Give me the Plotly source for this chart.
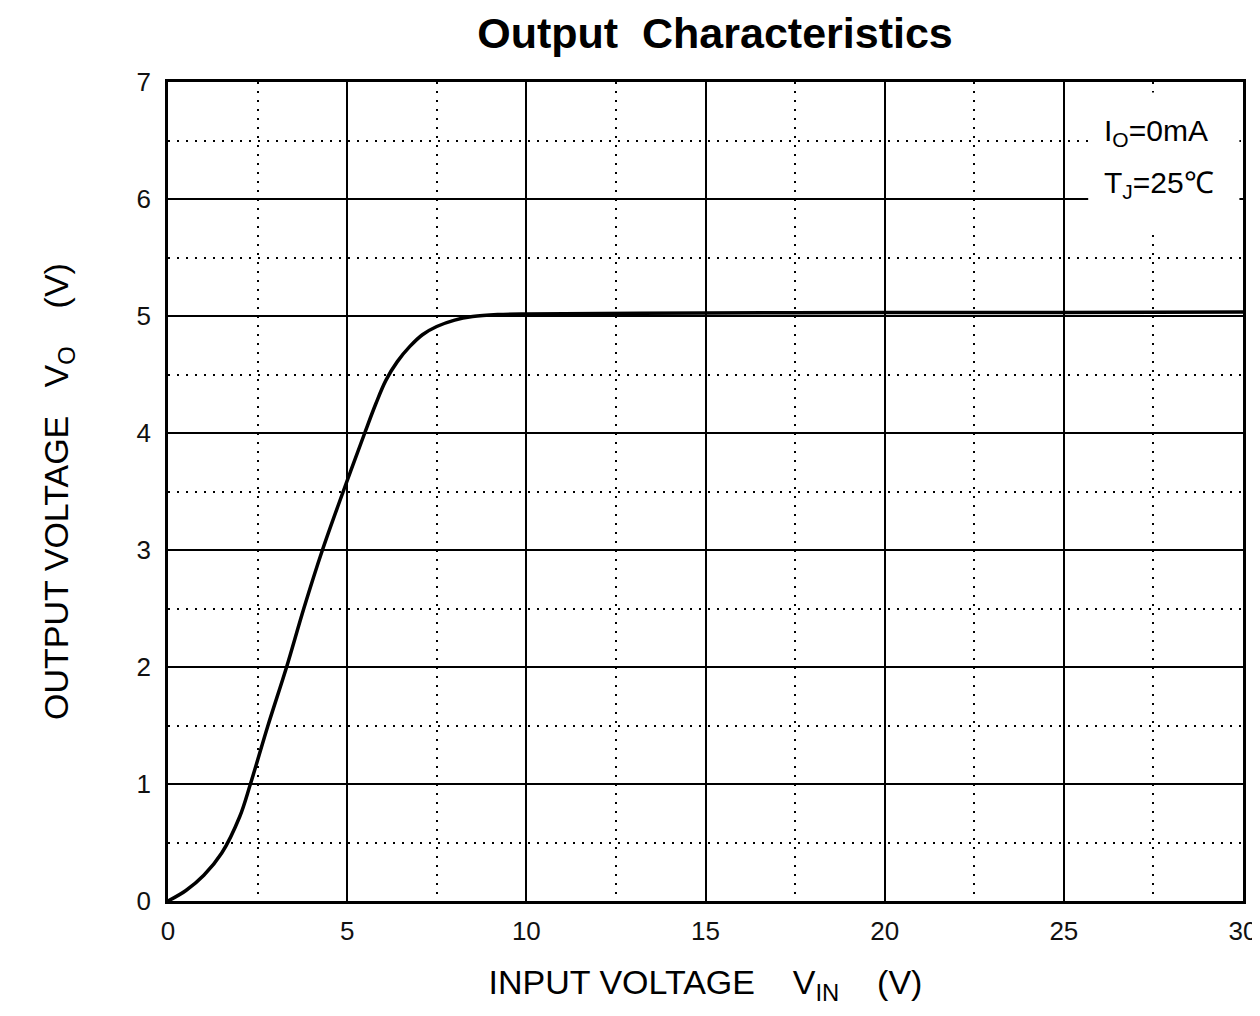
import plotly.graph_objects as go

vin = [0, 0.5, 1.0, 1.5, 2.0, 2.3, 2.79, 3.31, 3.79, 4.31, 4.89, 5.49, 5.8, 6.08, 6.4, 6.75, 7.1, 7.5, 8.0, 8.5, 9.2, 10, 15, 20, 25, 30]
vout = [0, 0.09, 0.22, 0.41, 0.72, 1.0, 1.5, 2.0, 2.5, 3.0, 3.5, 4.0, 4.25, 4.45, 4.61, 4.74, 4.84, 4.91, 4.965, 4.995, 5.012, 5.018, 5.025, 5.03, 5.03, 5.035]

x_ticks = [0, 5, 10, 15, 20, 25, 30]
y_ticks = [0, 1, 2, 3, 4, 5, 6, 7]

FONT = "Liberation Sans, Arial, sans-serif"
NB = "\u00a0"

fig = go.Figure()
fig.add_trace(go.Scatter(x=vin, y=vout, mode="lines",
                         line=dict(color="black", width=3.5, shape="spline", smoothing=1.0),
                         showlegend=False, hoverinfo="skip"))

# white box behind the conditions text (covers grid)
fig.add_shape(type="rect", xref="x", yref="y", x0=25.68, x1=29.9, y0=5.75, y1=6.91,
              fillcolor="white", line=dict(width=0), layer="above")

fig.add_annotation(x=26.07, y=6.57, xref="x", yref="y", xanchor="left",
                   text="I<sub>O</sub>=0mA", showarrow=False,
                   font=dict(family=FONT, size=30, color="black"))
fig.add_annotation(x=26.07, y=6.12, xref="x", yref="y", xanchor="left",
                   text="T<sub>J</sub>=25℃", showarrow=False,
                   font=dict(family=FONT, size=30, color="black"))

axis_common = dict(showline=True, linecolor="black", linewidth=2.5, mirror=True,
                   showgrid=True, gridcolor="black", gridwidth=2,
                   zeroline=False, ticks="",
                   tickfont=dict(family=FONT, size=26, color="#111"))

fig.update_xaxes(range=[0, 30], tickvals=x_ticks, ticktext=[str(v) for v in x_ticks],
                 ticklabelstandoff=5,
                 minor=dict(dtick=2.5, tick0=0, showgrid=True, gridcolor="black",
                            griddash="2px,7px", gridwidth=2),
                 title=dict(text=NB*2 + "INPUT VOLTAGE" + NB*4 + "V<sub>IN</sub>" + NB*4 + "(V)",
                            font=dict(family=FONT, size=34, color="black"), standoff=26),
                 automargin=False,
                 **axis_common)
fig.update_yaxes(range=[0, 7], tickvals=y_ticks, ticktext=[str(v) for v in y_ticks],
                 ticklabelstandoff=9,
                 minor=dict(dtick=0.5, tick0=0, showgrid=True, gridcolor="black",
                            griddash="2px,7px", gridwidth=2),
                 title=dict(text="OUTPUT VOLTAGE" + NB*3 + "V<sub>O</sub>" + NB*4 + "(V)",
                            font=dict(family=FONT, size=34, color="black"), standoff=58),
                 automargin=False,
                 **axis_common)

fig.update_layout(
    width=1252, height=1008,
    margin=dict(l=160, r=17, t=74, b=115),
    paper_bgcolor="white", plot_bgcolor="white",
    title=dict(text="<b>Output" + NB*2 + "Characteristics</b>", x=0.5647, xanchor="center",
               y=0.975, yanchor="middle",
               font=dict(family=FONT, size=43, color="black")),
)

fig.write_html("out.html")
